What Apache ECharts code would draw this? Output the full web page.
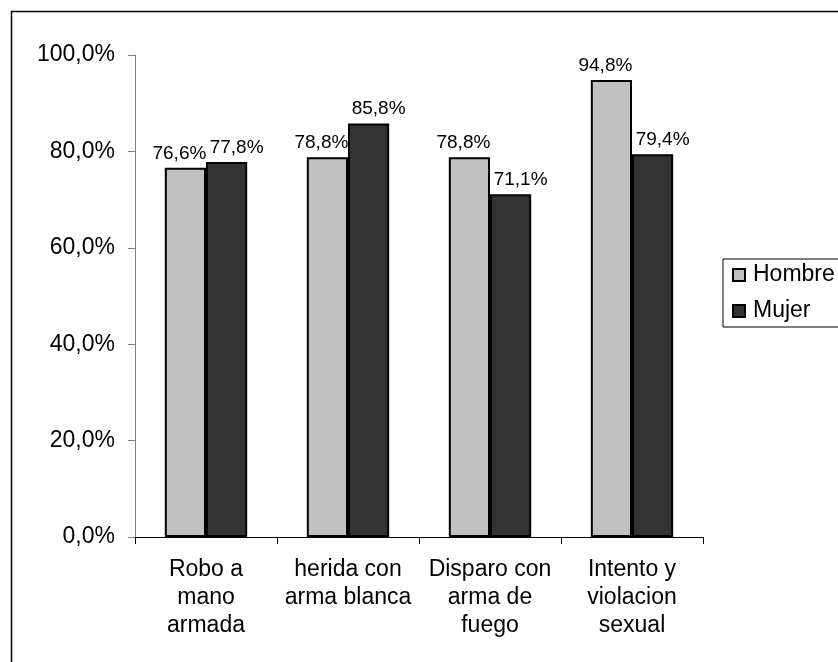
<!DOCTYPE html>
<html>
<head>
<meta charset="utf-8">
<script src="https://cdn.jsdelivr.net/npm/echarts@6/dist/echarts.min.js"></script>
<style>html,body{margin:0;padding:0;background:#fff}#c{width:838px;height:662px}</style>
</head>
<body>
<div id="c"></div>
<script>
const categories = ["Robo a\nmano\narmada", "herida con\narma blanca", "Disparo con\narma de\nfuego", "Intento y\nviolacion\nsexual"];
const hombre = [76.6, 78.8, 78.8, 94.8];
const mujer = [77.8, 85.8, 71.1, 79.4];
const seriesNames = ["Hombre", "Mujer"];

const FONT = '"Liberation Sans", Arial, sans-serif';
const fmt = v => v.toFixed(1).replace('.', ',') + '%';

const chart = echarts.init(document.getElementById('c'), null, {renderer: 'canvas'});
chart.setOption({
  animation: false,
  backgroundColor: '#fff',
  textStyle: {fontFamily: FONT, color: '#000'},
  graphic: [{
    type: 'rect',
    shape: {x: 11.5, y: 11.5, width: 1000, height: 1000},
    style: {fill: 'none', stroke: '#000', lineWidth: 1.5},
    silent: true, z: 0
  }],
  grid: {left: 135, right: 135, top: 55, bottom: 125, containLabel: false},
  legend: {
    orient: 'vertical',
    left: 723, top: 259,
    padding: [4, 30, 4, 9],
    itemWidth: 12, itemHeight: 12,
    itemGap: 12,
    icon: 'rect',
    borderColor: '#000', borderWidth: 1,
    textStyle: {fontFamily: FONT, fontSize: 23, color: '#000', lineHeight: 24, padding: [0, 0, 0, 3]},
    data: seriesNames
  },
  xAxis: {
    type: 'category',
    data: categories,
    axisLine: {lineStyle: {color: '#000', width: 1}},
    axisTick: {show: true, length: 7, lineStyle: {color: '#000'}},
    axisLabel: {fontFamily: FONT, fontSize: 23, color: '#000', lineHeight: 28, margin: 19, interval: 0, align: 'center'},
    splitLine: {show: false}
  },
  yAxis: {
    type: 'value',
    min: 0, max: 100, interval: 20,
    axisLine: {show: true, lineStyle: {color: '#808080', width: 1}},
    axisTick: {show: true, length: 7, lineStyle: {color: '#808080'}},
    axisLabel: {fontFamily: FONT, fontSize: 23, color: '#000', margin: 20, formatter: fmt},
    splitLine: {show: false}
  },
  series: [
    {
      name: seriesNames[0], type: 'bar', data: hombre,
      barCategoryGap: '42%', barGap: '0%',
      itemStyle: {color: '#c0c0c0', borderColor: '#000', borderWidth: 2},
      label: {show: true, position: 'top', distance: 5, offset: [-6, 0], fontFamily: FONT, fontSize: 19, color: '#000', formatter: p => fmt(p.value)}
    },
    {
      name: seriesNames[1], type: 'bar', data: mujer,
      barCategoryGap: '42%', barGap: '0%',
      itemStyle: {color: '#333333', borderColor: '#000', borderWidth: 2},
      label: {show: true, position: 'top', distance: 5, offset: [10, 0], fontFamily: FONT, fontSize: 19, color: '#000', formatter: p => fmt(p.value)}
    }
  ]
});
</script>
</body>
</html>
